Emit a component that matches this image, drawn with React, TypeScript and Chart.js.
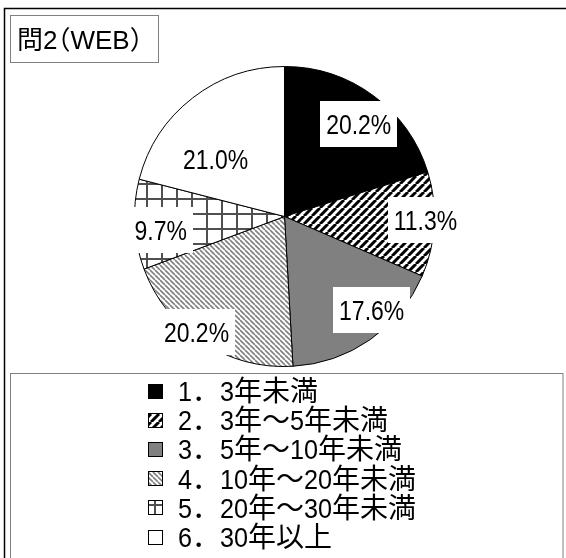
import React, { useEffect, useRef } from "react";
import { Chart, registerables } from "chart.js";

Chart.register(...registerables);

// ---- data ----
const TITLE = "問2（WEB）";
const categories = [
  "1．3年未満",
  "2．3年～5年未満",
  "3．5年～10年未満",
  "4．10年～20年未満",
  "5．20年～30年未満",
  "6．30年以上",
];
const values = [20.2, 11.3, 17.6, 20.2, 9.7, 21.0];
const fillKinds = ["black", "diagUp", "gray", "diagDown", "grid", "white"];

// ---- style (label placement relative to slice) ----
const LABEL_RADIUS = [0.79, 0.94, 0.85, 0.97, 0.83, 0.6];
const LABEL_ANGLE_SHIFT = [2.4, -1.5, -8.2, 4.1, -3.3, -12.2];
const LATIN_FAMILY = "'Liberation Sans', Arial, sans-serif";
const CJK_FAMILY = "'Noto Sans CJK JP', sans-serif";

function isLatin(ch: string) {
  return ch.charCodeAt(0) < 0x2000;
}

function splitRuns(text: string): { s: string; latin: boolean }[] {
  const runs: { s: string; latin: boolean }[] = [];
  for (const ch of text) {
    const l = isLatin(ch);
    if (runs.length && runs[runs.length - 1].latin === l) runs[runs.length - 1].s += ch;
    else runs.push({ s: ch, latin: l });
  }
  return runs;
}

// draws (or measures) mixed Latin/CJK text from x, alphabetic baseline y
function drawMixed(
  ctx: CanvasRenderingContext2D,
  text: string,
  x: number,
  y: number,
  size: number,
  narrow: number,
  propParens: boolean,
  measureOnly = false
) {
  ctx.textAlign = "left";
  ctx.textBaseline = "alphabetic";
  let cx = x;
  for (const r of splitRuns(text)) {
    ctx.font = `${size}px ${r.latin ? LATIN_FAMILY : CJK_FAMILY}`;
    if (r.latin) {
      const w = ctx.measureText(r.s).width;
      if (!measureOnly) {
        ctx.save();
        ctx.translate(cx, y);
        ctx.scale(narrow, 1);
        ctx.fillText(r.s, 0, 0);
        ctx.restore();
      }
      cx += w * narrow;
    } else {
      for (const ch of r.s) {
        const w = ctx.measureText(ch).width;
        if (propParens && ch === "（") {
          if (!measureOnly) ctx.fillText(ch, cx - size * 0.5, y);
          cx += size * 0.5;
        } else if (propParens && ch === "）") {
          if (!measureOnly) ctx.fillText(ch, cx, y);
          cx += size * 0.5;
        } else {
          if (!measureOnly) ctx.fillText(ch, cx, y);
          cx += w;
        }
      }
    }
  }
  return cx - x;
}

function makeFill(kind: string): string | CanvasPattern {
  if (kind === "black") return "#000000";
  if (kind === "gray") return "#808080";
  if (kind === "white") return "#ffffff";
  const c = document.createElement("canvas");
  const g = c.getContext("2d")!;
  if (kind === "diagUp" || kind === "diagDown") {
    const n = kind === "diagUp" ? 8 : 5;
    c.width = n;
    c.height = n;
    g.fillStyle = "#fff";
    g.fillRect(0, 0, n, n);
    g.strokeStyle = kind === "diagUp" ? "#000" : "#808080";
    g.lineWidth = kind === "diagUp" ? 3 : 1.6;
    g.beginPath();
    for (let k = -1; k <= 1; k++) {
      if (kind === "diagUp") {
        g.moveTo(k * n, n);
        g.lineTo(k * n + n, 0);
      } else {
        g.moveTo(k * n, 0);
        g.lineTo(k * n + n, n);
      }
    }
    g.stroke();
  } else if (kind === "grid") {
    const n = 15;
    c.width = n;
    c.height = n;
    g.fillStyle = "#fff";
    g.fillRect(0, 0, n, n);
    g.fillStyle = "#505050";
    g.fillRect(0, 0, 2, n);
    g.fillRect(0, 0, n, 2);
  }
  const p = g.createPattern(c, "repeat")!;
  if (kind === "grid" && (p as any).setTransform) {
    p.setTransform(new DOMMatrix().translate(11, 3));
  }
  return p;
}

const framePlugin = {
  id: "frame",
  beforeDraw(chart: any) {
    const ctx = chart.ctx as CanvasRenderingContext2D;
    ctx.save();
    ctx.fillStyle = "#fff";
    ctx.fillRect(0, 0, chart.width, chart.height);
    ctx.strokeStyle = "#000";
    ctx.lineWidth = 1.5;
    ctx.strokeRect(4.5, 8.5, 800, 800);
    // title box
    ctx.strokeStyle = "#808080";
    ctx.lineWidth = 1;
    ctx.strokeRect(10.5, 15.5, 148, 47);
    ctx.fillStyle = "#000";
    drawMixed(ctx, TITLE, 17, 49, 26, 1, true);
    ctx.restore();
  },
};

const labelPlugin = {
  id: "sliceLabels",
  afterDatasetsDraw(chart: any) {
    const ctx = chart.ctx as CanvasRenderingContext2D;
    const meta = chart.getDatasetMeta(0);
    const data = chart.data.datasets[0].data as number[];
    const size = 28;
    ctx.save();
    meta.data.forEach((arc: any, i: number) => {
      const { x, y, startAngle, endAngle, outerRadius } = arc.getProps(
        ["x", "y", "startAngle", "endAngle", "outerRadius"],
        true
      );
      const mid = (startAngle + endAngle) / 2 + (LABEL_ANGLE_SHIFT[i] * Math.PI) / 180;
      const r = outerRadius * LABEL_RADIUS[i];
      const cx = x + Math.cos(mid) * r;
      const cy = y + Math.sin(mid) * r;
      const text = `${data[i].toFixed(1)}%`;
      const tw = drawMixed(ctx, text, 0, 0, size, 0.82, false, true);
      const w = tw + 12;
      const h = 46;
      ctx.fillStyle = "#fff";
      ctx.fillRect(Math.round(cx - w / 2), Math.round(cy - h / 2), Math.round(w), h);
      ctx.fillStyle = "#000";
      drawMixed(ctx, text, cx - tw / 2, cy + 10, size, 0.82, false);
    });
    ctx.restore();
  },
};

const legendPlugin = {
  id: "boxLegend",
  afterDraw(chart: any) {
    const ctx = chart.ctx as CanvasRenderingContext2D;
    const labels = chart.data.labels as string[];
    const fills = chart.data.datasets[0].backgroundColor as any[];
    ctx.save();
    ctx.strokeStyle = "#808080";
    ctx.lineWidth = 1;
    ctx.strokeRect(10.5, 373.5, 552.5, 400);
    labels.forEach((lab, i) => {
      const cy = 391 + i * 29.2;
      const bx = 148;
      const by = Math.round(cy - 7.5);
      ctx.save();
      // shift so the pattern sits inside the swatch like the reference
      ctx.translate(bx - 5, by + 1);
      ctx.fillStyle = fills[i];
      ctx.fillRect(5, -1, 15, 15);
      ctx.restore();
      ctx.strokeStyle = "#000";
      ctx.strokeRect(bx + 0.5, by + 0.5, 14, 14);
      ctx.fillStyle = "#000";
      drawMixed(ctx, lab, 178, cy + 10, 28, 0.9, false);
    });
    ctx.restore();
  },
};

export default function App() {
  const ref = useRef<HTMLCanvasElement | null>(null);
  useEffect(() => {
    const fills = fillKinds.map(makeFill);
    const chart = new Chart(ref.current!, {
      type: "pie",
      data: {
        labels: categories,
        datasets: [
          {
            data: values,
            backgroundColor: fills as any,
            borderColor: "#000",
            borderWidth: 1,
          },
        ],
      },
      options: {
        responsive: false,
        animation: false,
        events: [],
        layout: { padding: { top: 66, bottom: 191, left: 134, right: 131 } },
        plugins: {
          legend: { display: false },
          tooltip: { enabled: false },
          title: { display: false },
        },
      },
      plugins: [framePlugin, labelPlugin, legendPlugin],
    });
    return () => chart.destroy();
  }, []);
  return (
    <div style={{ position: "fixed", left: 0, top: 0, width: 566, height: 558, background: "#fff" }}>
      <canvas ref={ref} width={566} height={558} />
    </div>
  );
}
